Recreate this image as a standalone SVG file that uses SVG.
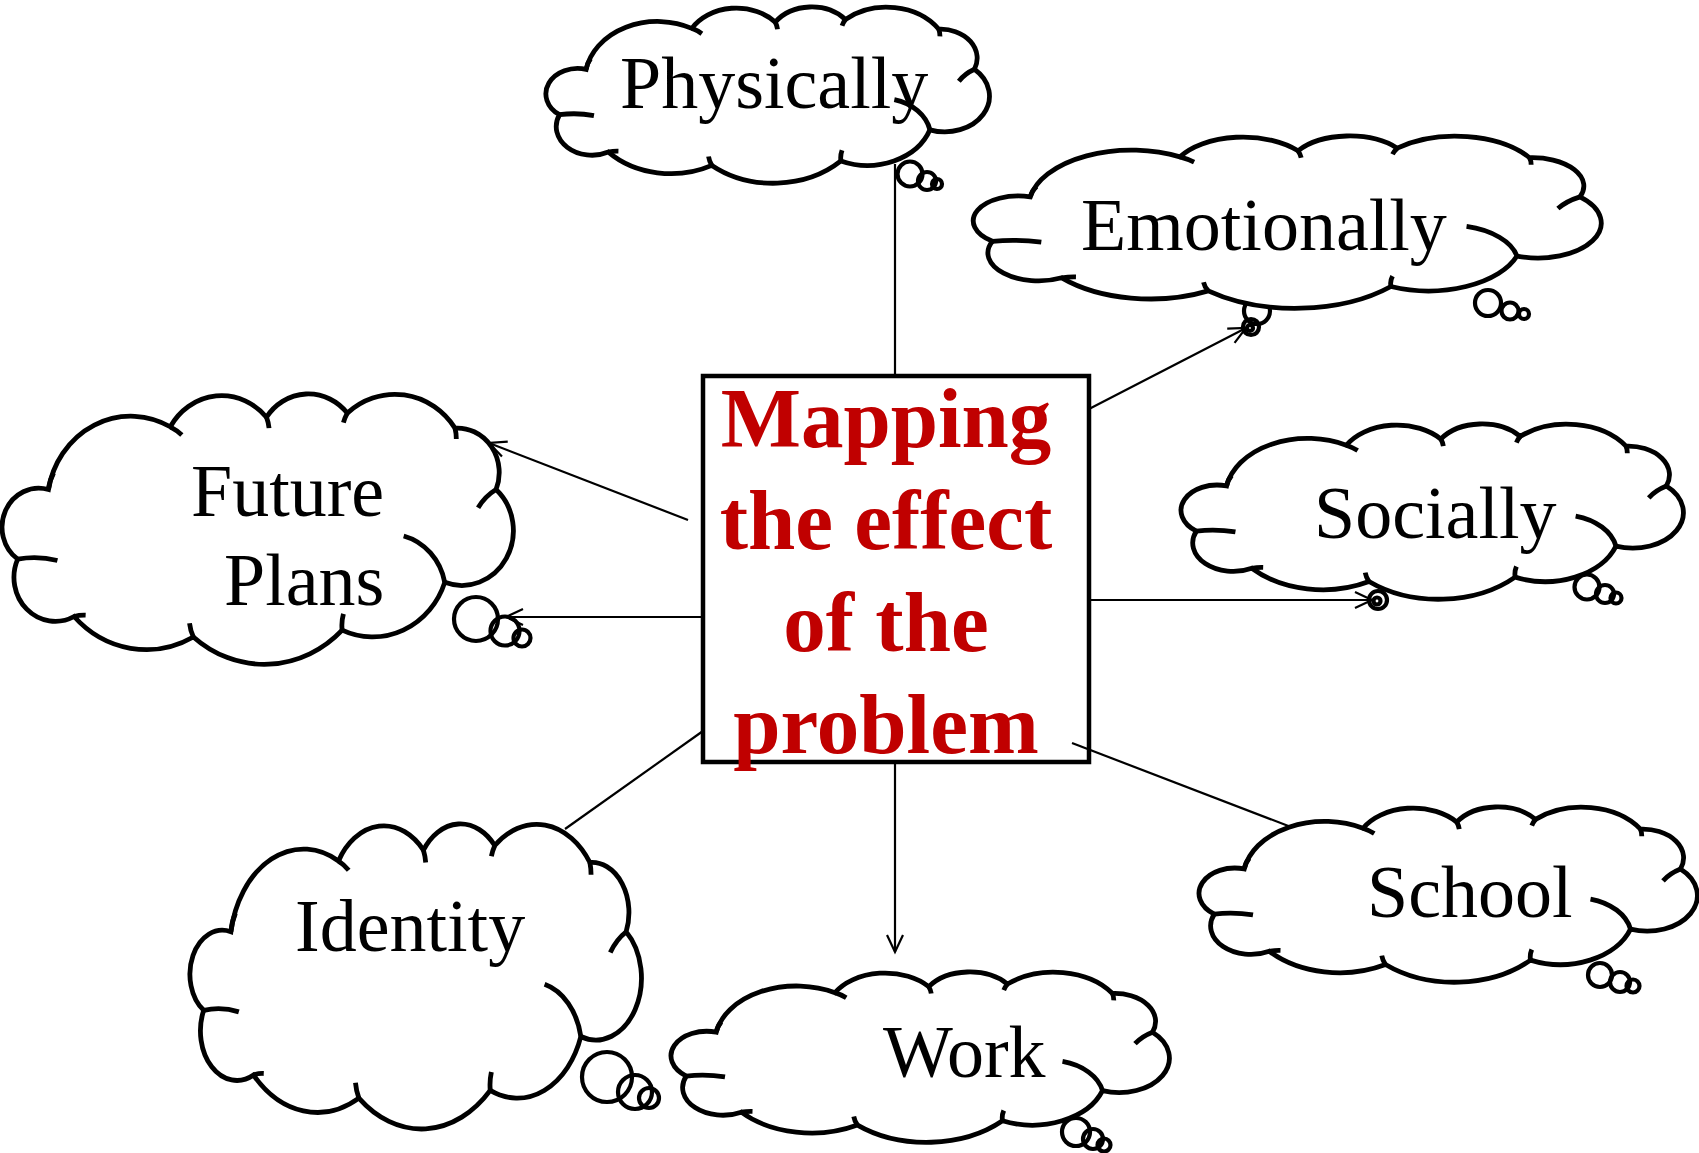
<svg xmlns="http://www.w3.org/2000/svg" xmlns:xlink="http://www.w3.org/1999/xlink" width="1699" height="1153" viewBox="0 0 1699 1153">
  <style>
    .label { font-family: "Liberation Serif", "Times New Roman", serif; font-size: 74px; fill: #000; }
    .title { font-family: "Liberation Serif", "Times New Roman", serif; font-size: 85px; font-weight: bold; fill: #C00000; text-anchor: middle; }
    .bubble { fill: none; stroke: #000; stroke-width: 4.2; }
    .conn { fill: none; stroke: #000; stroke-width: 2.2; }
    .box { fill: none; stroke: #000; stroke-width: 4.5; }
  </style>
  <defs>
    <!-- cloud outline drawn in a 200 x 100 unit box, scaled per node -->
    <path id="cloud" fill="#fff" stroke="#000" stroke-width="4.8" vector-effect="non-scaling-stroke"
          d="M 18.5 35 A 32.6 32.6 0 0 1 66 12 A 23.3 23.3 0 0 1 103.5 8.5 A 19.9 19.9 0 0 1 135 7 A 28.4 28.4 0 0 1 177 12.5 A 16.3 16.3 0 0 1 193 35 A 20.1 20.1 0 0 1 173 69 A 29.7 29.7 0 0 1 133 86.5 A 43.1 43.1 0 0 1 75 89 A 38.7 38.7 0 0 1 28.5 81.5 A 16.1 16.1 0 0 1 6.5 60.5 A 14.3 14.3 0 0 1 18.5 35 Z"/>
    <!-- short inner arcs where the lobes overlap -->
    <path id="ticks" fill="none" stroke="#000" stroke-width="4.8" vector-effect="non-scaling-stroke"
          d="M 18.5 35 A 15 15 0 0 1 20.5 29 M 66 12 A 20 20 0 0 1 70.5 15 M 103.5 8.5 A 15 15 0 0 1 104.5 12.5 M 133.5 10.5 A 15 15 0 0 1 135 7 M 177 12.5 A 15 15 0 0 1 177.5 16.5 M 186 41.7 A 20 20 0 0 1 193 35 M 157 52 A 22 22 0 0 1 173 69 M 133 86.5 A 15 15 0 0 1 133.5 80.5 M 75 89 A 15 15 0 0 1 73.5 84 M 28.5 81.5 A 15 15 0 0 1 33 81 M 6.5 60.5 A 40 40 0 0 1 22 61"/>
    <marker id="arrow" markerUnits="userSpaceOnUse" markerWidth="24" markerHeight="24" viewBox="-20 -12 24 24" refX="0" refY="0" orient="auto">
      <path d="M -17 -8 L 0 0 L -17 8" fill="none" stroke="#000" stroke-width="2.2"/>
    </marker>
  </defs>

  <g id="node-physically">
    <use xlink:href="#cloud" transform="translate(545 7) scale(2.225 1.78)"/>
    <use xlink:href="#ticks" transform="translate(545 7) scale(2.225 1.78)"/>
    <circle class="bubble" cx="910" cy="174" r="12.5"/>
    <circle class="bubble" cx="927" cy="181" r="9"/>
    <circle class="bubble" cx="937" cy="184" r="5"/>
    <text class="label" x="620" y="108">Physically</text>
  </g>

  <g id="node-emotionally">
    <circle class="bubble" cx="1257" cy="311" r="13"/>
    <use xlink:href="#cloud" transform="translate(972 136) scale(3.15 1.74)"/>
    <use xlink:href="#ticks" transform="translate(972 136) scale(3.15 1.74)"/>
    <circle class="bubble" cx="1251" cy="327" r="8"/>
    <circle class="bubble" cx="1250" cy="328" r="3"/>
    <circle class="bubble" cx="1488" cy="303" r="13"/>
    <circle class="bubble" cx="1510" cy="311" r="8.5"/>
    <circle class="bubble" cx="1524" cy="314" r="5"/>
    <text class="label" x="1081" y="250">Emotionally</text>
  </g>

  <g id="node-socially">
    <use xlink:href="#cloud" transform="translate(1180 424) scale(2.52 1.77)"/>
    <use xlink:href="#ticks" transform="translate(1180 424) scale(2.52 1.77)"/>
    <circle class="bubble" cx="1378" cy="600" r="9"/>
    <circle class="bubble" cx="1377" cy="601" r="3.5"/>
    <circle class="bubble" cx="1587" cy="587" r="12.5"/>
    <circle class="bubble" cx="1605" cy="594" r="9"/>
    <circle class="bubble" cx="1616" cy="598" r="5.5"/>
    <text class="label" x="1314" y="538">Socially</text>
  </g>

  <g id="node-future-plans">
    <use xlink:href="#cloud" transform="translate(1 394) scale(2.565 2.73)"/>
    <use xlink:href="#ticks" transform="translate(1 394) scale(2.565 2.73)"/>
    <circle class="bubble" cx="476" cy="619" r="22"/>
    <circle class="bubble" cx="505" cy="631" r="14.5"/>
    <circle class="bubble" cx="522" cy="638" r="8.5"/>
    <text class="label" x="191" y="516">Future</text>
    <text class="label" x="224" y="605">Plans</text>
  </g>

  <g id="node-identity">
    <use xlink:href="#cloud" transform="translate(189 824) scale(2.265 3.08)"/>
    <use xlink:href="#ticks" transform="translate(189 824) scale(2.265 3.08)"/>
    <circle class="bubble" cx="607" cy="1077" r="25"/>
    <circle class="bubble" cx="635" cy="1092" r="17"/>
    <circle class="bubble" cx="649" cy="1098" r="10"/>
    <text class="label" x="295" y="951">Identity</text>
  </g>

  <g id="node-work">
    <use xlink:href="#cloud" transform="translate(670 972) scale(2.5 1.72)"/>
    <use xlink:href="#ticks" transform="translate(670 972) scale(2.5 1.72)"/>
    <circle class="bubble" cx="1076" cy="1132" r="14"/>
    <circle class="bubble" cx="1093" cy="1139" r="10"/>
    <circle class="bubble" cx="1104" cy="1145" r="6.5"/>
    <text class="label" x="883" y="1077">Work</text>
  </g>

  <g id="node-school">
    <use xlink:href="#cloud" transform="translate(1198 807) scale(2.5 1.77)"/>
    <use xlink:href="#ticks" transform="translate(1198 807) scale(2.5 1.77)"/>
    <circle class="bubble" cx="1600" cy="975" r="12"/>
    <circle class="bubble" cx="1620" cy="982" r="10"/>
    <circle class="bubble" cx="1633" cy="986" r="6.5"/>
    <text class="label" x="1367" y="917">School</text>
  </g>

  <g id="connectors">
    <line class="conn" x1="895" y1="376" x2="895" y2="164"/>
    <line class="conn" x1="1089" y1="409" x2="1246" y2="328" marker-end="url(#arrow)"/>
    <line class="conn" x1="1089" y1="600" x2="1372" y2="600" marker-end="url(#arrow)"/>
    <line class="conn" x1="688" y1="520" x2="489" y2="443" marker-end="url(#arrow)"/>
    <line class="conn" x1="703" y1="617" x2="506" y2="617" marker-end="url(#arrow)"/>
    <line class="conn" x1="703" y1="731" x2="565" y2="829"/>
    <line class="conn" x1="895" y1="762" x2="895" y2="952" marker-end="url(#arrow)"/>
    <line class="conn" x1="1072" y1="743" x2="1291" y2="827"/>
  </g>

  <g id="node-center">
    <rect class="box" x="703" y="376" width="386" height="386"/>
    <text class="title" x="886" y="447">Mapping</text>
    <text class="title" x="886" y="549">the effect</text>
    <text class="title" x="886" y="651">of the</text>
    <text class="title" x="886" y="753">problem</text>
  </g>
</svg>
